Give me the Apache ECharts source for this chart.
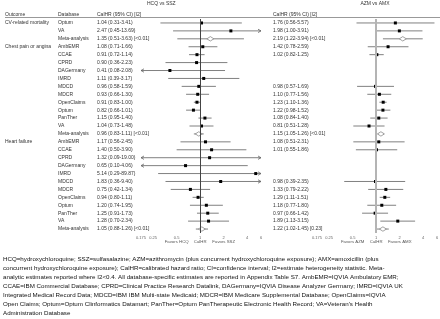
<!DOCTYPE html>
<html>
<head>
<meta charset="utf-8">
<script src="https://cdn.jsdelivr.net/npm/echarts@6/dist/echarts.min.js"></script>
<style>
  html, body { margin: 0; padding: 0; background: #fff; }
  #chart { width: 440px; height: 319px; }
</style>
</head>
<body>
<div id="chart"></div>
<script>
// rows of the table, top to bottom
var outcomes = ['CV-related mortality', 'Chest pain or angina', 'Heart failure'];
var outcomeStart = [0, 3, 15];
var databases = ['Optum', 'VA', 'Meta-analysis',
  'AmbEMR', 'CCAE', 'CPRD', 'DAGermany', 'IMRD', 'MDCD', 'MDCR', 'OpenClaims', 'Optum', 'PanTher', 'VA', 'Meta-analysis',
  'AmbEMR', 'CCAE', 'CPRD', 'DAGermany', 'IMRD', 'MDCD', 'MDCR', 'OpenClaims', 'Optum', 'PanTher', 'VA', 'Meta-analysis'];

// HCQ vs SSZ
var hcqEst  = [1.04, 2.47, 1.35, 1.08, 0.91, 0.90, 0.41, 1.11, 0.96, 0.93, 0.91, 0.82, 1.15, 1.04, 0.96,
               1.17, 1.40, 1.32, 0.65, 5.14, 1.83, 0.75, 0.94, 1.20, 1.25, 1.28, 1.05];
var hcqLow  = [0.31, 0.45, 0.51, 0.71, 0.72, 0.36, 0.08, 0.39, 0.58, 0.66, 0.83, 0.66, 0.95, 0.73, 0.83,
               0.56, 0.50, 0.09, 0.10, 0.29, 0.36, 0.42, 0.80, 0.74, 0.91, 0.70, 0.88];
var hcqHigh = [3.41, 13.69, 3.63, 1.66, 1.14, 2.23, 2.08, 3.17, 1.59, 1.30, 1.00, 1.01, 1.40, 1.48, 1.11,
               2.45, 3.90, 19.00, 4.06, 89.87, 9.40, 1.34, 1.11, 1.95, 1.73, 2.34, 1.26];
var hcqI2   = [null, null, '<0.01', null, null, null, null, null, null, null, null, null, null, null, '<0.01',
               null, null, null, null, null, null, null, null, null, null, null, '<0.01'];

// AZM vs AMX
var azmEst  = [1.76, 1.98, 2.19, 1.42, 1.02, null, null, null, 0.98, 1.10, 1.23, 1.22, 1.08, 0.81, 1.15,
               1.08, 1.01, null, null, null, 0.98, 1.33, 1.29, 1.18, 0.97, 1.89, 1.22];
var azmLow  = [0.56, 1.00, 1.22, 0.78, 0.82, null, null, null, 0.57, 0.77, 1.10, 0.98, 0.84, 0.51, 1.05,
               0.51, 0.55, null, null, null, 0.39, 0.79, 1.11, 0.77, 0.66, 1.13, 1.02];
var azmHigh = [5.57, 3.91, 3.94, 2.59, 1.25, null, null, null, 1.69, 1.56, 1.36, 1.52, 1.40, 1.28, 1.26,
               2.31, 1.86, null, null, null, 2.35, 2.22, 1.51, 1.80, 1.42, 3.15, 1.45];
var azmI2   = [null, null, '<0.01', null, null, null, null, null, null, null, null, null, null, null, '<0.01',
               null, null, null, null, null, null, null, null, null, null, null, '0.23'];

var tickValues = [0.175, 0.25, 0.5, 1, 2, 4, 6];
var favorsValues = [0.5, 1, 2];
var hcqFavors = ['Favors HCQ', 'CalHR', 'Favors SSZ'];
var azmFavors = ['Favors AZM', 'CalHR', 'Favors AMX'];

var footnote = [
  'HCQ=hydroxychloroquine; SSZ=sulfasalazine; AZM=azithromycin (plus concurrent hydroxychloroquine exposure); AMX=amoxicillin (plus',
  'concurrent hydroxychloroquine exposure); CalHR=calibrated hazard ratio; CI=confidence interval; I2=estimate heterogeneity statistic. Meta-',
  'analytic estimates reported where I2<0.4. All database-specific estimates are reported in Appendix Table S7. AmbEMR=IQVIA Ambulatory EMR;',
  'CCAE=IBM Commercial Database; CPRD=Clinical Practice Research Datalink, DAGermany=IQVIA Disease Analyzer Germany; IMRD=IQVIA UK',
  'Integrated Medical Record Data; MDCD=IBM IBM Multi-state Medicaid; MDCR=IBM Medicare Supplemental Database; OpenClaims=IQVIA',
  'Open Claims; Optum=Optum Clinformatics Datamart; PanTher=Optum PanTherapeutic Electronic Health Record; VA=Veteran\'s Health',
  'Administration Database'
];

var X_MIN = 0.175, X_MAX = 6;
var FONT = 'Liberation Sans, Arial, sans-serif';

function fmt(est, lo, hi, i2) {
  var s = est.toFixed(2) + ' (' + lo.toFixed(2) + '-' + hi.toFixed(2) + ')';
  if (i2) s += ' [' + i2 + ']';
  return s;
}

function txt(x, y, s, size, color, align) {
  return {
    type: 'text',
    style: {
      x: x, y: y, text: s, font: size + 'px ' + FONT, fill: color || '#333',
      align: align || 'left', verticalAlign: 'middle',
      textAlign: align || 'left', textVerticalAlign: 'middle'
    }
  };
}

function arrow(x, y, dir) {
  return {
    type: 'polyline',
    shape: { points: [[x - dir * 3, y - 1.7], [x, y], [x - dir * 3, y + 1.7]] },
    style: { stroke: '#666', fill: null, lineWidth: 0.8 }
  };
}

function ciItem(params, api) {
  var est = api.value(0), row = api.value(1), lo = api.value(2), hi = api.value(3);
  var pe = api.coord([est, row]);
  var y = pe[1];
  var x0 = api.coord([Math.max(lo, X_MIN), row])[0];
  var x1 = api.coord([Math.min(hi, X_MAX), row])[0];
  var kids = [{
    type: 'line', shape: { x1: x0, y1: y, x2: x1, y2: y },
    style: { stroke: '#808080', lineWidth: 1 }
  }];
  if (lo < X_MIN) kids.push(arrow(x0, y, -1));
  if (hi > X_MAX) kids.push(arrow(x1, y, 1));
  if (databases[row] === 'Meta-analysis') {
    kids.push({
      type: 'polygon',
      shape: { points: [[pe[0] - 3.5, y], [pe[0], y - 2.2], [pe[0] + 3.5, y], [pe[0], y + 2.2]] },
      style: { fill: '#fff', stroke: '#8a8a8a', lineWidth: 0.8 }
    });
  } else {
    kids.push({
      type: 'rect', shape: { x: pe[0] - 1.5, y: y - 1.5, width: 3, height: 3 },
      style: { fill: '#000' }
    });
  }
  return { type: 'group', children: kids };
}

function ciData(est, lo, hi) {
  var out = [];
  for (var i = 0; i < est.length; i++) {
    if (est[i] != null) out.push([est[i], i, lo[i], hi[i]]);
  }
  return out;
}

function tickSeries(idx, favors) {
  return {
    type: 'custom', xAxisIndex: idx, yAxisIndex: idx, clip: false, silent: true,
    data: tickValues.map(function (v) { return [v, databases.length - 1]; }),
    encode: { x: 0, y: 1 },
    renderItem: function (params, api) {
      var p = api.coord([api.value(0), api.value(1)]);
      var kids = [txt(p[0], p[1] + 8.5, String(tickValues[params.dataIndex]), 4, '#666', 'center')];
      var k = favorsValues.indexOf(tickValues[params.dataIndex]);
      if (k >= 0) kids.push(txt(p[0], p[1] + 13, favors[k], 4.3, '#555', 'center'));
      return { type: 'group', children: kids };
    }
  };
}

var rowIdx = databases.map(function (d, i) { return i; });

function axes(idx) {
  return {
    x: { type: 'log', logBase: 2, gridIndex: idx, min: X_MIN, max: X_MAX, show: false },
    y: { type: 'category', gridIndex: idx, data: rowIdx, inverse: true, show: false }
  };
}

var chart = echarts.init(document.getElementById('chart'), null, { renderer: 'canvas' });

var option = {
  animation: false,
  backgroundColor: '#fff',
  grid: [
    { left: 141, top: 19, width: 120, height: 214 },
    { left: 317, top: 19, width: 120, height: 214 }
  ],
  xAxis: [axes(0).x, axes(1).x],
  yAxis: [axes(0).y, axes(1).y],
  graphic: [
    txt(147, 4, 'HCQ vs SSZ', 5, '#333', 'left'),
    txt(375, 4, 'AZM vs AMX', 5, '#333', 'center'),
    txt(5, 14.5, 'Outcome', 5, '#333'),
    txt(58, 14.5, 'Database', 5, '#333'),
    txt(97, 14.5, 'CalHR (95% CI) [I2]', 5, '#333'),
    txt(273, 14.5, 'CalHR (95% CI) [I2]', 5, '#333'),
    {
      type: 'line', shape: { x1: 5, y1: 17.5, x2: 440, y2: 17.5 },
      style: { stroke: '#999', lineWidth: 1 }
    },
    {
      type: 'text', left: 3, top: 255,
      style: {
        text: footnote.join('\n'), font: '6.2px ' + FONT, fill: '#111', lineHeight: 9
      }
    }
  ],
  series: [
    // row text: outcome, database, HCQ estimate
    {
      type: 'custom', xAxisIndex: 0, yAxisIndex: 0, clip: false, silent: true,
      data: rowIdx.map(function (i) { return [1, i]; }),
      encode: { x: 0, y: 1 },
      renderItem: function (params, api) {
        var i = api.value(1);
        var y = api.coord([1, i])[1];
        var kids = [
          txt(58, y, databases[i], 5, '#333'),
          txt(97, y, fmt(hcqEst[i], hcqLow[i], hcqHigh[i], hcqI2[i]), 5, '#333')
        ];
        var k = outcomeStart.indexOf(i);
        if (k >= 0) kids.push(txt(5, y, outcomes[k], 5, '#333'));
        return { type: 'group', children: kids };
      }
    },
    {
      type: 'custom', xAxisIndex: 1, yAxisIndex: 1, clip: false, silent: true,
      data: rowIdx.filter(function (i) { return azmEst[i] != null; }).map(function (i) { return [1, i]; }),
      encode: { x: 0, y: 1 },
      renderItem: function (params, api) {
        var i = api.value(1);
        var y = api.coord([1, i])[1];
        return txt(273, y, fmt(azmEst[i], azmLow[i], azmHigh[i], azmI2[i]), 5, '#333');
      }
    },
    {
      type: 'custom', xAxisIndex: 0, yAxisIndex: 0, clip: false,
      data: ciData(hcqEst, hcqLow, hcqHigh),
      encode: { x: [0, 2, 3], y: 1 },
      renderItem: ciItem,
      markLine: {
        silent: true, symbol: 'none', label: { show: false },
        lineStyle: { color: '#444', width: 1, type: 'solid' },
        data: [{ xAxis: 1 }]
      },
      z: 3
    },
    {
      type: 'custom', xAxisIndex: 1, yAxisIndex: 1, clip: false,
      data: ciData(azmEst, azmLow, azmHigh),
      encode: { x: [0, 2, 3], y: 1 },
      renderItem: ciItem,
      markLine: {
        silent: true, symbol: 'none', label: { show: false },
        lineStyle: { color: '#b4b4b4', width: 2, type: 'solid' },
        data: [{ xAxis: 1 }]
      },
      z: 3
    },
    tickSeries(0, hcqFavors),
    tickSeries(1, azmFavors)
  ]
};

chart.setOption(option);
</script>
</body>
</html>
